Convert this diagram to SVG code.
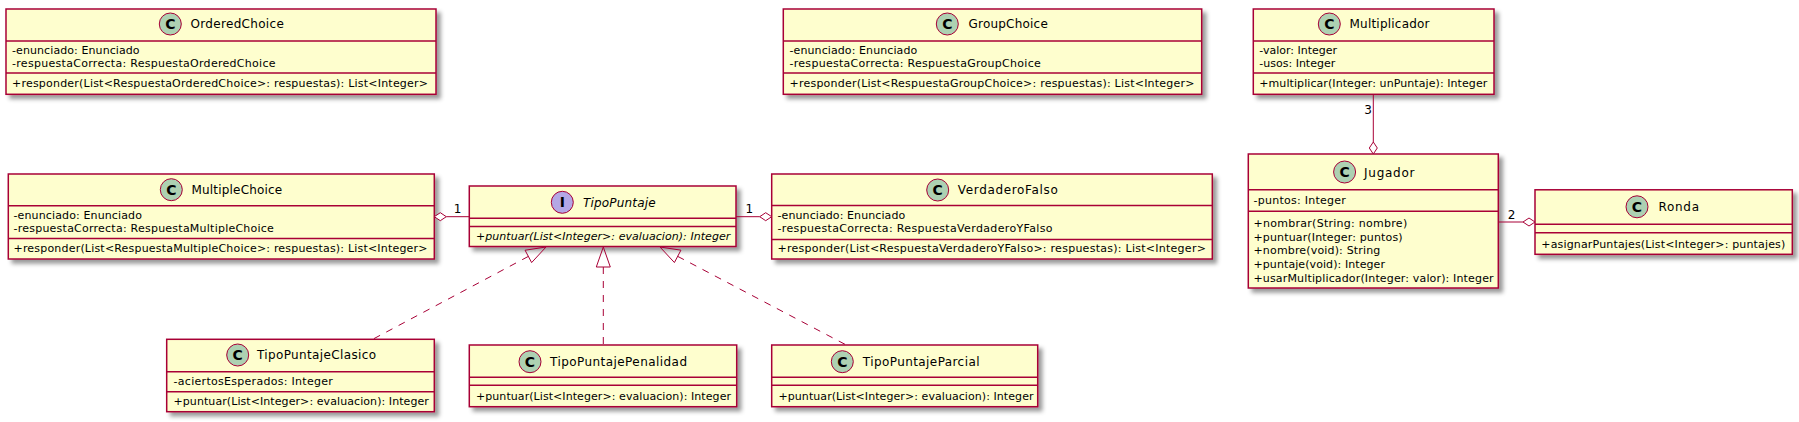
<svg xmlns="http://www.w3.org/2000/svg" width="1799" height="422" viewBox="0 0 1799 422">
<defs>
<filter id="sh" x="-1" y="-1" width="300%" height="300%">
<feGaussianBlur result="b1" stdDeviation="2"/>
<feColorMatrix type="matrix" in="b1" result="b2" values="0 0 0 0 0 0 0 0 0 0 0 0 0 0 0 0 0 0 .4 0"/>
<feOffset result="b3" in="b2" dx="4" dy="4"/>
<feBlend in="SourceGraphic" in2="b3" mode="normal"/>
</filter>
<style>
.box{fill:#FEFECE;stroke:#A80036;stroke-width:1.5;filter:url(#sh)}
.sep{stroke:#A80036;stroke-width:1.5}
.t{font-family:"DejaVu Sans",sans-serif;font-size:12px;fill:#000}
.ti{font-style:italic}
.m{font-family:"DejaVu Sans",sans-serif;font-size:11px;fill:#000}
.mi{font-style:italic}
.cc{fill:#ADD1B2;stroke:#A80036;stroke-width:1}
.ic{fill:#B4A7E5;stroke:#A80036;stroke-width:1}
.cl{font-family:"DejaVu Sans",sans-serif;font-weight:bold;font-size:14px;text-anchor:middle;fill:#000}
.ln{stroke:#A80036;stroke-width:1;fill:none}
.dash{stroke-dasharray:7,7}
.hd{fill:#FFFFFF;stroke:#A80036;stroke-width:1}
.lb{font-family:"DejaVu Sans",sans-serif;font-size:12px;fill:#000;text-anchor:middle}
</style>
</defs>
<rect width="1799" height="422" fill="#FFFFFF"/>

<g id="OrderedChoice">
<rect class="box" x="6" y="9" width="430" height="85.3"/>
<circle class="cc" cx="170.3" cy="24" r="11"/>
<text class="cl" x="170.3" y="29">C</text>
<text class="t" x="190.5" y="28.4" textLength="93.3">OrderedChoice</text>
<line class="sep" x1="6" y1="41" x2="436" y2="41"/>
<text class="m" x="12" y="54.3" textLength="127.6">-enunciado: Enunciado</text>
<text class="m" x="12" y="67.2" textLength="263.6">-respuestaCorrecta: RespuestaOrderedChoice</text>
<line class="sep" x1="6" y1="73" x2="436" y2="73"/>
<text class="m" x="12" y="87.3" textLength="416">+responder(List&lt;RespuestaOrderedChoice&gt;: respuestas): List&lt;Integer&gt;</text>
</g>

<g id="GroupChoice">
<rect class="box" x="783.3" y="9" width="418.4" height="85.3"/>
<circle class="cc" cx="947.3" cy="24" r="11"/>
<text class="cl" x="947.3" y="29">C</text>
<text class="t" x="968.5" y="28.4" textLength="79.3">GroupChoice</text>
<line class="sep" x1="783.3" y1="41" x2="1201.7" y2="41"/>
<text class="m" x="789.5" y="54.3" textLength="127.7">-enunciado: Enunciado</text>
<text class="m" x="789.5" y="67.2" textLength="251.3">-respuestaCorrecta: RespuestaGroupChoice</text>
<line class="sep" x1="783.3" y1="73" x2="1201.7" y2="73"/>
<text class="m" x="789.5" y="87.3" textLength="405">+responder(List&lt;RespuestaGroupChoice&gt;: respuestas): List&lt;Integer&gt;</text>
</g>

<g id="Multiplicador">
<rect class="box" x="1253.3" y="9" width="240.7" height="85.3"/>
<circle class="cc" cx="1329.3" cy="24" r="11"/>
<text class="cl" x="1329.3" y="29">C</text>
<text class="t" x="1349.5" y="28.4" textLength="80">Multiplicador</text>
<line class="sep" x1="1253.3" y1="41" x2="1494" y2="41"/>
<text class="m" x="1259.3" y="54.3">-valor: Integer</text>
<text class="m" x="1259.3" y="67.2">-usos: Integer</text>
<line class="sep" x1="1253.3" y1="73" x2="1494" y2="73"/>
<text class="m" x="1259.3" y="87.3" textLength="228">+multiplicar(Integer: unPuntaje): Integer</text>
</g>

<g id="MultipleChoice">
<rect class="box" x="8.3" y="174" width="426" height="85"/>
<circle class="cc" cx="171.3" cy="189.7" r="11"/>
<text class="cl" x="171.3" y="194.7">C</text>
<text class="t" x="191.5" y="194" textLength="90.7">MultipleChoice</text>
<line class="sep" x1="8.3" y1="205.7" x2="434.3" y2="205.7"/>
<text class="m" x="13.5" y="219.2" textLength="128.4">-enunciado: Enunciado</text>
<text class="m" x="13.5" y="232.1" textLength="260.4">-respuestaCorrecta: RespuestaMultipleChoice</text>
<line class="sep" x1="8.3" y1="238.5" x2="434.3" y2="238.5"/>
<text class="m" x="13.5" y="252.3" textLength="414">+responder(List&lt;RespuestaMultipleChoice&gt;: respuestas): List&lt;Integer&gt;</text>
</g>

<g id="TipoPuntaje">
<rect class="box" x="469.3" y="186" width="266.7" height="60.5"/>
<circle class="ic" cx="562.3" cy="202.3" r="11"/>
<text class="cl" x="562.3" y="207.3">I</text>
<text class="t ti" x="583" y="206.7" textLength="72.7">TipoPuntaje</text>
<line class="sep" x1="469.3" y1="218.3" x2="736" y2="218.3"/>
<line class="sep" x1="469.3" y1="226.5" x2="736" y2="226.5"/>
<text class="m mi" x="476" y="240.2" textLength="254.3">+puntuar(List&lt;Integer&gt;: evaluacion): Integer</text>
</g>

<g id="VerdaderoFalso">
<rect class="box" x="771.7" y="174" width="440.6" height="85"/>
<circle class="cc" cx="937.7" cy="190" r="11"/>
<text class="cl" x="937.7" y="195">C</text>
<text class="t" x="957.8" y="194.3" textLength="100">VerdaderoFalso</text>
<line class="sep" x1="771.7" y1="205.5" x2="1212.3" y2="205.5"/>
<text class="m" x="777.5" y="219.2" textLength="127.7">-enunciado: Enunciado</text>
<text class="m" x="777.5" y="232.1" textLength="275">-respuestaCorrecta: RespuestaVerdaderoYFalso</text>
<line class="sep" x1="771.7" y1="239.5" x2="1212.3" y2="239.5"/>
<text class="m" x="777.5" y="252.3" textLength="428.4">+responder(List&lt;RespuestaVerdaderoYFalso&gt;: respuestas): List&lt;Integer&gt;</text>
</g>

<g id="Jugador">
<rect class="box" x="1248.3" y="154" width="250" height="134"/>
<circle class="cc" cx="1344.6" cy="172" r="11"/>
<text class="cl" x="1344.6" y="177">C</text>
<text class="t" x="1364" y="176.5" textLength="50.5">Jugador</text>
<line class="sep" x1="1248.3" y1="189.8" x2="1498.3" y2="189.8"/>
<text class="m" x="1253.5" y="204.3" textLength="92.4">-puntos: Integer</text>
<line class="sep" x1="1248.3" y1="211.3" x2="1498.3" y2="211.3"/>
<text class="m" x="1253.5" y="227.2" textLength="153.7">+nombrar(String: nombre)</text>
<text class="m" x="1253.5" y="240.8" textLength="149.1">+puntuar(Integer: puntos)</text>
<text class="m" x="1253.5" y="254.4" textLength="126.8">+nombre(void): String</text>
<text class="m" x="1253.5" y="268" textLength="131.5">+puntaje(void): Integer</text>
<text class="m" x="1253.5" y="281.6" textLength="240.1">+usarMultiplicador(Integer: valor): Integer</text>
</g>

<g id="Ronda">
<rect class="box" x="1535" y="189.8" width="257.3" height="64.5"/>
<circle class="cc" cx="1637" cy="206.8" r="11"/>
<text class="cl" x="1637" y="211.8">C</text>
<text class="t" x="1658.5" y="211.2" textLength="40.5">Ronda</text>
<line class="sep" x1="1535" y1="224.2" x2="1792.3" y2="224.2"/>
<line class="sep" x1="1535" y1="232.8" x2="1792.3" y2="232.8"/>
<text class="m" x="1541.3" y="247.5" textLength="244">+asignarPuntajes(List&lt;Integer&gt;: puntajes)</text>
</g>

<g id="TipoPuntajeClasico">
<rect class="box" x="166.7" y="339.3" width="267.6" height="72.4"/>
<circle class="cc" cx="237.7" cy="355" r="11"/>
<text class="cl" x="237.7" y="360">C</text>
<text class="t" x="257" y="359.4" textLength="119">TipoPuntajeClasico</text>
<line class="sep" x1="166.7" y1="371.7" x2="434.3" y2="371.7"/>
<text class="m" x="173.5" y="385" textLength="159.4">-aciertosEsperados: Integer</text>
<line class="sep" x1="166.7" y1="391.7" x2="434.3" y2="391.7"/>
<text class="m" x="173.5" y="405.3" textLength="255.4">+puntuar(List&lt;Integer&gt;: evaluacion): Integer</text>
</g>

<g id="TipoPuntajePenalidad">
<rect class="box" x="469.3" y="345" width="267.4" height="61.7"/>
<circle class="cc" cx="530" cy="361.7" r="11"/>
<text class="cl" x="530" y="366.7">C</text>
<text class="t" x="550" y="366" textLength="137">TipoPuntajePenalidad</text>
<line class="sep" x1="469.3" y1="377.3" x2="736.7" y2="377.3"/>
<line class="sep" x1="469.3" y1="385.3" x2="736.7" y2="385.3"/>
<text class="m" x="476" y="400" textLength="255">+puntuar(List&lt;Integer&gt;: evaluacion): Integer</text>
</g>

<g id="TipoPuntajeParcial">
<rect class="box" x="771.7" y="345" width="266" height="61.7"/>
<circle class="cc" cx="842.3" cy="361.7" r="11"/>
<text class="cl" x="842.3" y="366.7">C</text>
<text class="t" x="862.8" y="366" textLength="116.7">TipoPuntajeParcial</text>
<line class="sep" x1="771.7" y1="377.3" x2="1037.7" y2="377.3"/>
<line class="sep" x1="771.7" y1="385.3" x2="1037.7" y2="385.3"/>
<text class="m" x="778.5" y="400" textLength="255">+puntuar(List&lt;Integer&gt;: evaluacion): Integer</text>
</g>

<g id="connectors">
<line class="ln" x1="446.3" y1="216.7" x2="469.3" y2="216.7"/>
<polygon class="hd" points="434.3,216.7 440.3,212.7 446.3,216.7 440.3,220.7"/>
<text class="lb" x="457.5" y="212.7">1</text>

<line class="ln" x1="736" y1="216.7" x2="759.7" y2="216.7"/>
<polygon class="hd" points="771.7,216.7 765.7,212.7 759.7,216.7 765.7,220.7"/>
<text class="lb" x="749.3" y="212.7">1</text>

<line class="ln" x1="1373.3" y1="94.3" x2="1373.3" y2="142"/>
<polygon class="hd" points="1373.3,154 1369.3,148 1373.3,142 1377.3,148"/>
<text class="lb" x="1368" y="114">3</text>

<line class="ln" x1="1498.3" y1="222" x2="1523" y2="222"/>
<polygon class="hd" points="1535,222 1529,218 1523,222 1529,226"/>
<text class="lb" x="1511.5" y="218.5">2</text>

<line class="ln dash" x1="528.35" y1="256.4" x2="372.7" y2="339.3"/>
<polygon class="ln" points="546,247 531.64,262.58 525.06,250.22"/>

<line class="ln dash" x1="603.3" y1="267" x2="603.3" y2="345"/>
<polygon class="ln" points="603.3,247 596.3,267 610.3,267"/>

<line class="ln dash" x1="677.68" y1="256.35" x2="846.3" y2="345"/>
<polygon class="ln" points="660,247 674.41,262.54 680.95,250.16"/>
</g>
</svg>
